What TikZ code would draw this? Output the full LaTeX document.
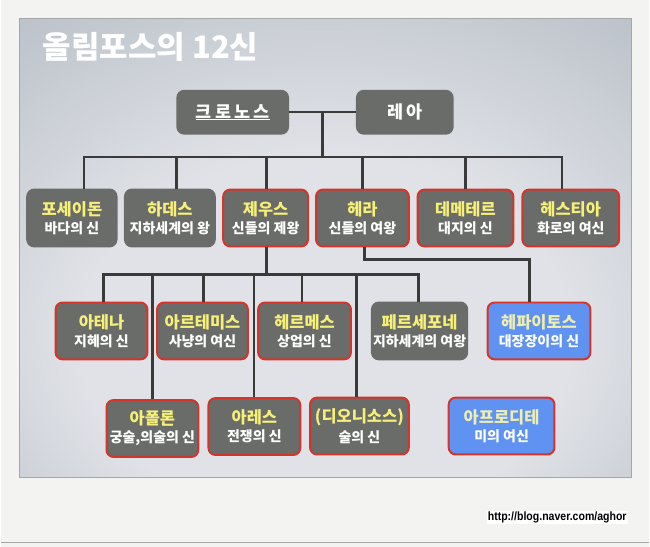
\documentclass[tikz,border=0pt]{standalone}
\usepackage{fontspec}
\setmainfont{Noto Sans CJK KR}
\newfontfamily\urlfont{Liberation Sans}
\usepackage{tikz}
\usetikzlibrary{calc, positioning}
\definecolor{paper}{RGB}{243,243,241}
\definecolor{slidein}{RGB}{224,226,231}
\definecolor{slidemid}{RGB}{188,194,202}
\definecolor{slideout}{RGB}{136,146,158}
\definecolor{slideedge}{RGB}{108,120,134}
\definecolor{boxgray}{RGB}{106,108,105}
\definecolor{godred}{RGB}{212,52,42}
\definecolor{godblue}{RGB}{96,146,242}
\definecolor{nameyellow}{RGB}{247,240,120}
\definecolor{namepale}{RGB}{238,238,176}
\definecolor{linegray}{RGB}{58,58,58}
\pgfdeclareradialshading{slideshade}{\pgfpoint{0bp}{-14bp}}{%
  color(0bp)=(slidein); color(20bp)=(slidein);
  color(40bp)=(slidemid); color(56bp)=(slideout); color(70bp)=(slideedge)}
\newcommand{\god}[3][nameyellow]{%
  {\color{#1}\fontsize{16.5}{17}\selectfont #2}\\[3.5pt]
  {\fontsize{14}{14}\selectfont #3}}

\begin{document}
\begin{tikzpicture}[x=1pt, y=-1pt,
  godbox/.style={
    rectangle, rounded corners=7pt,
    fill=boxgray, draw=boxgray, line width=2pt,
    font=\bfseries\color{white}, align=center,
    inner sep=1pt, minimum height=57pt
  },
  olymp/.style={godbox, draw=godred},
  smith/.style={olymp, fill=godblue},
  titan/.style={
    godbox, minimum height=43pt,
    font=\bfseries\color{white}\fontsize{17.5}{18}\selectfont
  },
  link/.style={draw=linegray, line width=2.4pt}
]

%% ═══════════════════════════════════════════════
%% Fondo y diapositiva
%% ═══════════════════════════════════════════════
\fill[paper] (0,0) rectangle (650,548);
\draw[gray!70, line width=1.5pt] (0,543.5) -- (650,543.5);
\shade[shading=slideshade, draw=gray!70, line width=0.6pt]
  (18.5,18.3) rectangle (632,478);
\node[anchor=west, inner sep=0pt, text=white,
      font=\bfseries\fontsize{31}{32}\selectfont]
  (title) at (42,47.5) {올림포스의 12신};

%% ═══════════════════════════════════════════════
%% Titanes
%% ═══════════════════════════════════════════════
\node[titan, minimum width=111pt] (cronus) at (232.5,112.5)
  {\addfontfeatures{LetterSpace=18}\underline{크로노스}};
\node[titan, minimum width=96pt] (rhea) at (405,112.5)
  {\addfontfeatures{LetterSpace=18}레아};

%% ═══════════════════════════════════════════════
%% Hijos de Cronos
%% ═══════════════════════════════════════════════
\node[godbox, minimum width=89.5pt] (posei) at (71.3,218.5)
  {\god{포세이돈}{바다의 신}};
\node[godbox, minimum width=90pt] (hades) at (169.5,218.5)
  {\god{하데스}{지하세계의 왕}};
\node[olymp, minimum width=85pt] (zeus) at (265.5,218.5)
  {\god{제우스}{신들의 제왕}};
\node[olymp, minimum width=93pt] (hera) at (362.5,218.5)
  {\god{헤라}{신들의 여왕}};
\node[olymp, minimum width=96pt] (demeter) at (465.8,218.5)
  {\god{데메테르}{대지의 신}};
\node[olymp, minimum width=97pt] (hestia) at (571.3,218.5)
  {\god{헤스티아}{화로의 여신}};

%% ═══════════════════════════════════════════════
%% Hijos de Zeus y Hera
%% ═══════════════════════════════════════════════
\node[olymp, minimum width=92pt] (athena) at (101,331.7)
  {\god{아테나}{지혜의 신}};
\node[olymp, minimum width=91pt] (artemis) at (202.2,331.7)
  {\god{아르테미스}{사냥의 여신}};
\node[olymp, minimum width=93pt] (hermes) at (304.5,331.7)
  {\god{헤르메스}{상업의 신}};
\node[godbox, minimum width=95.5pt] (perse) at (419.8,331.7)
  {\god{페르세포네}{지하세계의 여왕}};
\node[smith, minimum width=103pt] (hepha) at (539.5,331.7)
  {\god[namepale]{헤파이토스}{대장장이의 신}};

\node[olymp, minimum width=92pt] (apollon) at (152,429.5)
  {\god{아폴론}{궁술,의술의 신}};
\node[olymp, minimum width=92pt] (ares) at (254.2,427.5)
  {\god{아레스}{전쟁의 신}};
\node[olymp, minimum width=99pt] (dionysus) at (359.5,427)
  {\god{(디오니소스)}{술의 신}};
\node[smith, minimum width=106pt] (aphro) at (502,427)
  {\god[namepale]{아프로디테}{미의 여신}};

%% ── Líneas ─────────────────────────────────────────────────────────────────

%% Cronos — Rea
\coordinate (crj) at ($(cronus.east)!0.5!(rhea.west)$);
\coordinate (bus) at ($(crj)+(0,45)$);
\draw[link] (cronus.east) -- (rhea.west);
\draw[link] (crj) -- (bus);
\draw[link] ([xshift=12pt]posei.north) |- (bus) -| ([xshift=-9pt]hestia.north);
\foreach \n/\dx in {hades/6.5, zeus/1, hera/0, demeter/0}
  \draw[link] ([xshift=\dx pt]\n.north) -- ([xshift=\dx pt]\n.north |- bus);

%% Zeus — hijos
\coordinate (zb) at ($(zeus.south)+(1,27)$);
\draw[link] ([xshift=1pt]zeus.south) -- (zb);
\draw[link] ([xshift=2pt]athena.north) |- (zb) -| ([xshift=-1pt]perse.north);
\foreach \n/\dx in {artemis/1, hermes/-2.7, apollon/0, ares/-0.5, dionysus/-3}
  \draw[link] ([xshift=\dx pt]\n.north) -- ([xshift=\dx pt]\n.north |- zb);

%% Hera — Hefesto
\draw[link] ([xshift=2pt]hera.south) -- ++(0,12) -| ([xshift=-9.5pt]hepha.north);

%% Pie
\node[fill=white, inner sep=1pt, anchor=west, font=\urlfont\bfseries]
  (url) at (487,519)
  {\scalebox{0.88}[1]{\fontsize{12}{12}\selectfont http://blog.naver.com/aghor}};

\end{tikzpicture}
\end{document}
